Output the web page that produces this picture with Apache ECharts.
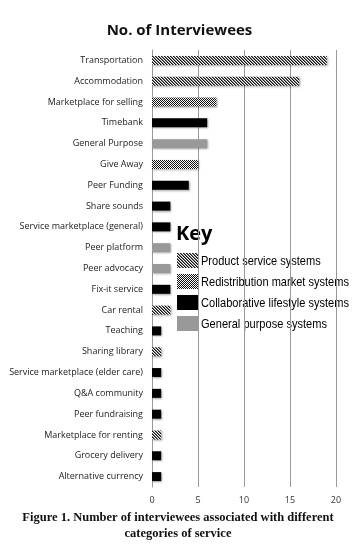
<!DOCTYPE html>
<html><head><meta charset="utf-8">
<script src="https://cdn.jsdelivr.net/npm/echarts@6/dist/echarts.min.js"></script>
<style>html,body{margin:0;padding:0;background:#fff}#c{width:359px;height:548px}</style>
</head><body><div id="c"></div>
<script>
const categories = ['Transportation','Accommodation','Marketplace for selling','Timebank','General Purpose','Give Away','Peer Funding','Share sounds','Service marketplace (general)','Peer platform','Peer advocacy','Fix-it service','Car rental','Teaching','Sharing library','Service marketplace (elder care)','Q&A community','Peer fundraising','Marketplace for renting','Grocery delivery','Alternative currency'];
const values = [19,16,7,6,6,5,4,2,2,2,2,2,2,1,1,1,1,1,1,1,1];
const groups = [0,0,1,2,3,1,2,2,2,3,3,2,0,2,0,2,2,2,0,2,2];
const groupNames = ['Product service systems','Redistribution market systems','Collaborative lifestyle systems','General purpose systems'];
const xTicks = [0,5,10,15,20];

function makePattern(fn, n){
  const c = document.createElement('canvas'); c.width = n; c.height = n;
  const g = c.getContext('2d');
  g.fillStyle = '#fff'; g.fillRect(0,0,n,n);
  for (let x=0;x<n;x++) for (let y=0;y<n;y++) { const col = fn(x,y); if (col) { g.fillStyle = col; g.fillRect(x,y,1,1); } }
  return {image: c, repeat: 'repeat'};
}
const stripe = makePattern((x,y)=>{ const k=(x-y+9)%3; return k===0 ? '#111' : (k===1 ? '#777' : null); }, 3);
const checker = makePattern((x,y)=>((x+y)%2)===0 ? '#111' : null, 2);
const colors = [stripe, checker, '#000000', '#999999'];

const series = groupNames.map((name,gi)=>({
  name: name,
  type: 'bar',
  stack: 'all',
  barWidth: 9,
  itemStyle: {color: colors[gi], shadowBlur: 2, shadowOffsetX: 1, shadowOffsetY: 1, shadowColor: 'rgba(0,0,0,0.35)'},
  data: values.map((v,i)=> groups[i]===gi ? v : null)
}));

const legendGraphics = [];
groupNames.forEach((name,gi)=>{
  const y = 253 + gi*21;
  legendGraphics.push({type:'rect', left: 177, top: y, shape:{width:21, height:15}, style:{fill: colors[gi]}});
  legendGraphics.push({type:'text', x: 201, y: y+8, scaleX: 0.85,
    style:{text: name, font: '13px "Liberation Sans"', fill:'#000', textVerticalAlign:'middle', verticalAlign:'middle'}});
});

const chart = echarts.init(document.getElementById('c'));
chart.setOption({
  animation: false,
  title: {
    text: 'No. of Interviewees', left: 'center', top: 18,
    textStyle: {fontFamily: 'Open Sans', fontWeight: 'bold', fontSize: 15, color: '#111'}
  },
  graphic: [{
    type: 'text', left: 176, top: 224,
    style: {text: 'Key', font: 'bold 20px "Open Sans"', fill: '#000'}
  },{
    type: 'text', x: 178, y: 510,
    style: {text: 'Figure 1. Number of interviewees associated with different\ncategories of service',
      font: 'bold 12.5px "Liberation Serif"', fill: '#111', align: 'center', textAlign: 'center', lineHeight: 16}
  }].concat(legendGraphics),
  grid: {left: 152, right: 23, top: 50, bottom: 61},
  xAxis: {
    type: 'value', min: 0, max: 20, interval: 5,
    axisLine: {show: false}, axisTick: {show: false},
    splitLine: {lineStyle: {color: '#999', width: 1}},
    axisLabel: {fontFamily: 'Open Sans', fontSize: 9, color: '#333', margin: 9,
      formatter: v => xTicks.includes(v) ? String(v) : ''}
  },
  yAxis: {
    type: 'category', data: categories, inverse: true,
    axisLine: {lineStyle: {color: '#999'}},
    axisTick: {length: 4, lineStyle: {color: '#999'}},
    axisLabel: {fontFamily: 'Open Sans', fontSize: 9, color: '#222', margin: 9}
  },
  series: series
});
</script></body></html>
